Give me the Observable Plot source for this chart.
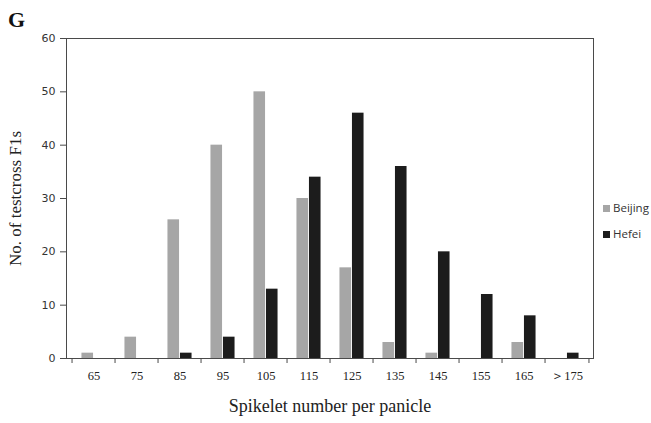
<!DOCTYPE html>
<html><head><meta charset="utf-8">
<script src="https://cdn.jsdelivr.net/npm/d3@7"></script>
<script src="https://cdn.jsdelivr.net/npm/@observablehq/plot@0.6"></script>
<style>
body{margin:0;background:#fff;}
#wrap{position:relative;width:651px;height:423px;}
#G{position:absolute;left:8px;top:7px;font:bold 22px "Liberation Serif","DejaVu Serif",serif;color:#111;}
#legend{position:absolute;left:603px;top:195px;font:11.5px "Open Sans","Liberation Sans",sans-serif;color:#333;line-height:26px;}
#legend span.sw{display:inline-block;width:7px;height:7px;margin-right:3px;vertical-align:0px;}
.serifTicks text{font-family:"Liberation Serif","DejaVu Serif",serif !important;}
</style></head>
<body><div id="wrap"><div id="G">G</div><div id="legend"></div></div>
<script>
const categories = ["65","75","85","95","105","115","125","135","145","155","165","＞175"];
const beijing = [1,4,26,40,50,30,17,3,1,0,3,0];
const hefei   = [0,0,1,4,13,34,46,36,20,12,8,1];
const seriesNames = ["Beijing","Hefei"];
const seriesColors = ["#a6a6a6","#1c1c1c"];
const yTicks = [0,10,20,30,40,50,60];

const W = 651, H = 423, mL = 66, mR = 58, mT = 38, mB = 65;
const bw = (W - mL - mR) / categories.length;
const barW = 12.5;

const dataB = categories.map((c,i)=>({cat:c, v:beijing[i]}));
const dataH = categories.map((c,i)=>({cat:c, v:hefei[i]}));

const chart = Plot.plot({
  width: W, height: H,
  marginLeft: mL, marginRight: mR, marginTop: mT, marginBottom: mB,
  style: {background: "transparent"},
  x: {type: "band", domain: categories, padding: 0},
  y: {domain: [0, 60]},
  marks: [
    Plot.barY(dataB, {x: "cat", y: "v", fill: seriesColors[0], insetLeft: bw/2 - barW, insetRight: bw/2}),
    Plot.barY(dataH, {x: "cat", y: "v", fill: seriesColors[1], insetLeft: bw/2, insetRight: bw/2 - barW}),
    Plot.frame({stroke: "#4a4a4a", strokeWidth: 1}),
    Plot.axisX({tickSize: 5, dx: -bw/2, text: null, label: null, stroke: "#4a4a4a"}),
    Plot.axisX({ticks: [categories[categories.length-1]], tickSize: 5, dx: bw/2, text: null, label: null, stroke: "#4a4a4a"}),
    Plot.axisX({tickSize: 0, tickPadding: 13, fontSize: 12.5, fontFamily: "Liberation Serif, DejaVu Serif, serif", fill: "#222",
      label: "Spikelet number per panicle", labelAnchor: "center", labelOffset: 53, labelArrow: false, className: "serifTicks"}),
    Plot.axisY({ticks: yTicks, tickSize: 6, tickPadding: 5, fontSize: 11, fontFamily: "DejaVu Sans, Verdana, sans-serif", fill: "#333", stroke: "#4a4a4a", label: null}),
    Plot.axisY({ticks: [], tickSize: 0, label: "No. of testcross F1s", labelAnchor: "center", labelOffset: 58, labelArrow: false,
      fontSize: 17, fontFamily: "Liberation Serif, DejaVu Serif, serif", fill: "#222"})
  ]
});
// serif for x tick labels and axis titles
chart.querySelectorAll("g[aria-label='x-axis tick label'] text, g[aria-label='x-axis tick label']").forEach(e=>{
  e.setAttribute("font-family","Liberation Serif, DejaVu Serif, serif");
  e.style.fontFamily = "'Liberation Serif', 'DejaVu Serif', serif";
});
chart.querySelectorAll("g[aria-label='x-axis label'] text, g[aria-label='x-axis label']").forEach(e=>{
  e.setAttribute("font-size","18");
  e.style.fontFamily = "'Liberation Serif', 'DejaVu Serif', serif";
});
document.getElementById("wrap").prepend(chart);

const lg = document.getElementById("legend");
seriesNames.forEach((n,i)=>{
  const d = document.createElement("div");
  d.innerHTML = `<span class="sw" style="background:${seriesColors[i]}"></span>${n}`;
  lg.appendChild(d);
});
</script></body></html>
